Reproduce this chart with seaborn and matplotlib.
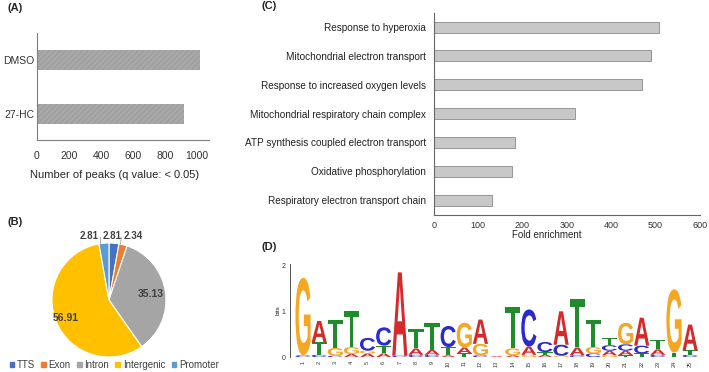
import numpy as np
import pandas as pd
import matplotlib.pyplot as plt
import seaborn as sns
from matplotlib.textpath import TextPath
from matplotlib.patches import PathPatch
from matplotlib.font_manager import FontProperties
from matplotlib.transforms import Affine2D

# (A) peaks per condition
peak_groups = ["DMSO", "27-HC"]
peak_counts = [1020, 920]

# (B) genomic distribution of peaks (%)
region_names = ["TTS", "Exon", "Intron", "Intergenic", "Promoter"]
region_pcts = [2.81, 2.34, 35.13, 56.91, 2.81]
region_colors = ["#4472c4", "#ed7d31", "#a5a5a5", "#ffc000", "#5b9bd5"]

# (C) GO enrichment
go_terms = ["Response to hyperoxia", "Mitochondrial electron transport",
            "Response to increased oxygen levels", "Mitochondrial respiratory chain complex",
            "ATP synthesis coupled electron transport", "Oxidative phosphorylation",
            "Respiratory electron transport chain"]
go_fold = [509, 491, 470, 318, 182, 176, 130]

# (D) motif, letter heights in bits, bottom to top
motif_stacks = [
    [("C", 0.04), ("G", 1.69)],
    [("C", 0.05), ("T", 0.27), ("A", 0.47)],
    [("C", 0.03), ("G", 0.17), ("T", 0.62)],
    [("A", 0.07), ("G", 0.15), ("T", 0.78)],
    [("A", 0.08), ("G", 0.06), ("C", 0.28)],
    [("A", 0.08), ("T", 0.17), ("C", 0.40)],
    [("C", 0.03), ("A", 1.82)],
    [("C", 0.05), ("A", 0.14), ("T", 0.43)],
    [("C", 0.05), ("A", 0.11), ("T", 0.59)],
    [("A", 0.04), ("T", 0.18), ("C", 0.46)],
    [("T", 0.08), ("A", 0.13), ("G", 0.54)],
    [("C", 0.04), ("G", 0.25), ("A", 0.53)],
    [("A", 0.02)],
    [("A", 0.04), ("G", 0.15), ("T", 0.91)],
    [("G", 0.05), ("A", 0.18), ("C", 0.81)],
    [("A", 0.05), ("T", 0.06), ("C", 0.22)],
    [("G", 0.03), ("C", 0.24), ("A", 0.73)],
    [("C", 0.04), ("A", 0.17), ("T", 1.05)],
    [("C", 0.08), ("G", 0.14), ("T", 0.60)],
    [("G", 0.04), ("A", 0.10), ("C", 0.12), ("T", 0.16)],
    [("T", 0.04), ("A", 0.10), ("C", 0.14), ("G", 0.47)],
    [("T", 0.08), ("C", 0.17), ("A", 0.61)],
    [("C", 0.05), ("A", 0.12), ("T", 0.21)],
    [("T", 0.10), ("G", 1.38)],
    [("C", 0.05), ("T", 0.10), ("A", 0.56)],
]
base_colors = {"A": "#d42a2a", "C": "#2a2acf", "G": "#f5a623", "T": "#1e8c2a"}

sns.set_style("white")
plt.rcParams["font.family"] = ["Liberation Sans", "DejaVu Sans"]
plt.rcParams["hatch.linewidth"] = 0.5

fig = plt.figure(figsize=(7.09, 3.72), dpi=100)

# ---------- (A)
axA = fig.add_axes([0.052, 0.624, 0.243, 0.288])
dfA = pd.DataFrame({"group": peak_groups, "peaks": peak_counts})
sns.barplot(data=dfA, x="peaks", y="group", orient="h", color="#a8a8a8",
            width=0.37, saturation=1, ax=axA)
for p in axA.patches:
    p.set_hatch("//////")
    p.set_edgecolor("#979797")
    p.set_linewidth(0)
axA.set_xlim(0, 1075)
axA.set_ylim(1.48, -0.5)
axA.set_xticks([0, 200, 400, 600, 800, 1000])
axA.set_xlabel("Number of peaks (q value: < 0.05)", fontsize=8)
axA.xaxis.set_label_coords(0.453, -0.28)
axA.set_ylabel("")
axA.tick_params(axis="x", length=0, pad=8, labelsize=7.5, colors="#333333")
axA.tick_params(axis="y", length=0, pad=2, labelsize=7.5, colors="#333333")
sns.despine(ax=axA)
for s in ["left", "bottom"]:
    axA.spines[s].set_color("#7f7f7f")
    axA.spines[s].set_linewidth(0.8)

# ---------- (B)
axB = fig.add_axes([0.0733, 0.0403, 0.1608, 0.3065])
wedges, _ = axB.pie(region_pcts, colors=region_colors, startangle=90, counterclock=False,
                    wedgeprops=dict(edgecolor="white", linewidth=0.8))
axB.set_xlim(-1, 1)
axB.set_ylim(-1, 1)
axB.set_aspect("equal")
inner_r = {"Intron": 0.74, "Intergenic": 0.83}
outer_x = {"Promoter": -0.34, "TTS": 0.05, "Exon": 0.43}
for w, name, pct in zip(wedges, region_names, region_pcts):
    mid = np.deg2rad((w.theta1 + w.theta2) / 2)
    if name in inner_r:
        r = inner_r[name]
        axB.text(r * np.cos(mid), r * np.sin(mid), f"{pct:.2f}", ha="center", va="center",
                 fontsize=7.5, fontweight="bold", color="#404040")
    else:
        axB.text(outer_x[name], 1.13, f"{pct:.2f}", ha="center", va="center",
                 fontsize=7, fontweight="bold", color="#404040", clip_on=False)
# leader lines
axB.plot([-0.15, -0.15], [0.99, 1.1], color="#a0a0a0", lw=0.6, clip_on=False)
axB.plot([0.2, 0.22], [0.98, 1.1], color="#a0a0a0", lw=0.6, clip_on=False)
handles = [plt.Rectangle((0, 0), 1, 1, color=c) for c in region_colors]
fig.legend(handles, region_names, loc="center", bbox_to_anchor=(0.161, 0.019), ncol=5,
           frameon=False, fontsize=7, handlelength=0.45, handleheight=0.45,
           handletextpad=0.3, columnspacing=0.65, labelcolor="#404040")

# ---------- (C)
axC = fig.add_axes([0.612, 0.422, 0.375, 0.543])
dfC = pd.DataFrame({"term": go_terms, "fold": go_fold})
sns.barplot(data=dfC, x="fold", y="term", orient="h", color="#c8c8c8", width=0.38,
            saturation=1, edgecolor="#8a8a8a", linewidth=0.6, ax=axC)
axC.set_xlim(0, 600)
axC.set_ylim(6.52, -0.49)
axC.set_xticks(range(0, 601, 100))
axC.set_xlabel("Fold enrichment", fontsize=7)
axC.xaxis.set_label_coords(0.425, -0.075)
axC.set_ylabel("")
axC.tick_params(axis="x", length=0, pad=4.5, labelsize=6.5, colors="#333333")
axC.tick_params(axis="y", length=0, pad=5.5, labelsize=7.2, colors="#222222")
sns.despine(ax=axC)
for s in ["left", "bottom"]:
    axC.spines[s].set_color("#666666")
    axC.spines[s].set_linewidth(0.8)

# ---------- (D)
axD = fig.add_axes([0.409, 0.040, 0.578, 0.25])
fp = FontProperties(family="Liberation Sans", weight="bold")
letter_w = 0.94
for pos, stack in enumerate(motif_stacks, start=1):
    y0 = 0.0
    for base, h in stack:
        tp = TextPath((0, 0), base, size=1, prop=fp)
        bb = tp.get_extents()
        tr = (Affine2D().translate(-bb.x0, -bb.y0)
              .scale(letter_w / bb.width, h / bb.height)
              .translate(pos - letter_w / 2, y0))
        axD.add_patch(PathPatch(tr.transform_path(tp), facecolor=base_colors[base],
                                edgecolor="none"))
        y0 += h
axD.set_xlim(0.19, 25.6)
axD.set_ylim(0, 2.03)
axD.set_xticks(range(1, len(motif_stacks) + 1))
axD.set_xticklabels([str(i) for i in range(1, len(motif_stacks) + 1)], rotation=90)
axD.set_yticks([0, 1, 2])
axD.set_ylabel("bits", fontsize=4.5, labelpad=1)
axD.tick_params(axis="x", length=1.5, width=0.5, pad=1, labelsize=4)
axD.tick_params(axis="y", length=2, width=0.5, pad=1, labelsize=5)
axD.tick_params(axis="both", colors="#333333")
sns.despine(ax=axD, bottom=True)
axD.spines["left"].set_linewidth(0.6)
axD.spines["left"].set_color("#333333")

# panel tags
for tag, x, y in [("(A)", 7, 8), ("(B)", 7, 222), ("(C)", 262, 6), ("(D)", 262, 247)]:
    fig.text(x / 709, 1 - y / 372, tag, fontsize=8, fontweight="bold", ha="left", va="center")

fig.savefig("out.png", dpi=100)
